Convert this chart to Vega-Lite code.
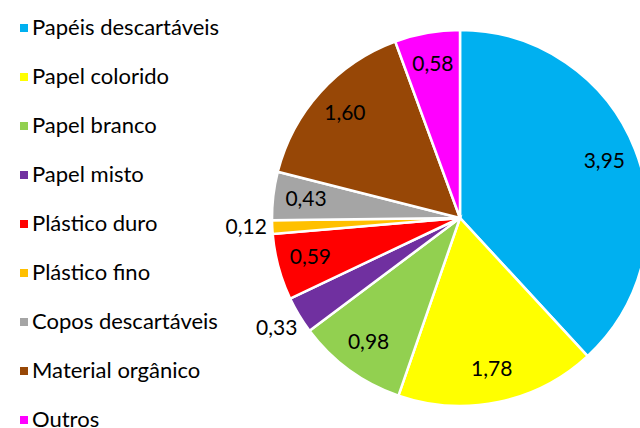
{
  "$schema": "https://vega.github.io/schema/vega-lite/v6.json",
  "autosize": {"type": "none"},
  "width": 360,
  "height": 376,
  "padding": {"left": 280, "top": 30, "right": 0, "bottom": 22},
  "background": "white",
  "config": {
    "view": {"stroke": null},
    "font": "Lato",
    "locale": {"number": {"decimal": ",", "thousands": ".", "grouping": [3], "currency": ["", " €"]}}
  },
  "data": {
    "values": [
      {"cat": "Papéis descartáveis", "v": 3.95},
      {"cat": "Papel colorido", "v": 1.78},
      {"cat": "Papel branco", "v": 0.98},
      {"cat": "Papel misto", "v": 0.33},
      {"cat": "Plástico duro", "v": 0.59},
      {"cat": "Plástico fino", "v": 0.12},
      {"cat": "Copos descartáveis", "v": 0.43},
      {"cat": "Material orgânico", "v": 1.60},
      {"cat": "Outros", "v": 0.58}
    ]
  },
  "transform": [
    {"window": [{"op": "row_number", "as": "i"}]},
    {"stack": "v", "groupby": [], "sort": [{"field": "i", "order": "ascending"}], "as": ["s0", "s1"]},
    {"calculate": "(datum.s0 + datum.s1) / 2", "as": "mid"}
  ],
  "layer": [
    {
      "mark": {"type": "arc", "outerRadius": 188, "stroke": "white", "strokeWidth": 2.5},
      "encoding": {
        "theta": {"field": "s0", "type": "quantitative", "scale": {"domain": [0, 10.36]}},
        "theta2": {"field": "s1"},
        "color": {
          "field": "cat",
          "type": "nominal",
          "sort": ["Papéis descartáveis", "Papel colorido", "Papel branco", "Papel misto", "Plástico duro", "Plástico fino", "Copos descartáveis", "Material orgânico", "Outros"],
          "scale": {
            "domain": ["Papéis descartáveis", "Papel colorido", "Papel branco", "Papel misto", "Plástico duro", "Plástico fino", "Copos descartáveis", "Material orgânico", "Outros"],
            "range": ["#00B0F0", "#FFFF00", "#92D050", "#7030A0", "#FF0000", "#FFC000", "#A5A5A5", "#974706", "#FF00FF"]
          },
          "legend": {
            "title": null,
            "orient": "none",
            "legendX": -267,
            "legendY": -13,
            "padding": 0,
            "symbolType": "square",
            "symbolSize": 64,
            "symbolStrokeWidth": 0,
            "symbolOpacity": 1,
            "labelFontSize": 22,
            "labelFont": "Lato",
            "labelColor": "#000000",
            "labelOffset": -3,
            "labelLimit": 400,
            "rowPadding": 27
          }
        }
      }
    },
    {
      "transform": [{"filter": "datum.v >= 0.4"}],
      "mark": {"type": "text", "radius": 155, "fontSize": 21, "color": "#000000", "font": "Lato"},
      "encoding": {
        "theta": {"field": "mid", "type": "quantitative"},
        "text": {"field": "v", "type": "quantitative", "format": ".2f"}
      }
    },
    {
      "transform": [{"filter": "datum.v < 0.4"}],
      "mark": {"type": "text", "radius": 214, "fontSize": 21, "color": "#000000", "font": "Lato"},
      "encoding": {
        "theta": {"field": "mid", "type": "quantitative"},
        "text": {"field": "v", "type": "quantitative", "format": ".2f"}
      }
    }
  ]
}
